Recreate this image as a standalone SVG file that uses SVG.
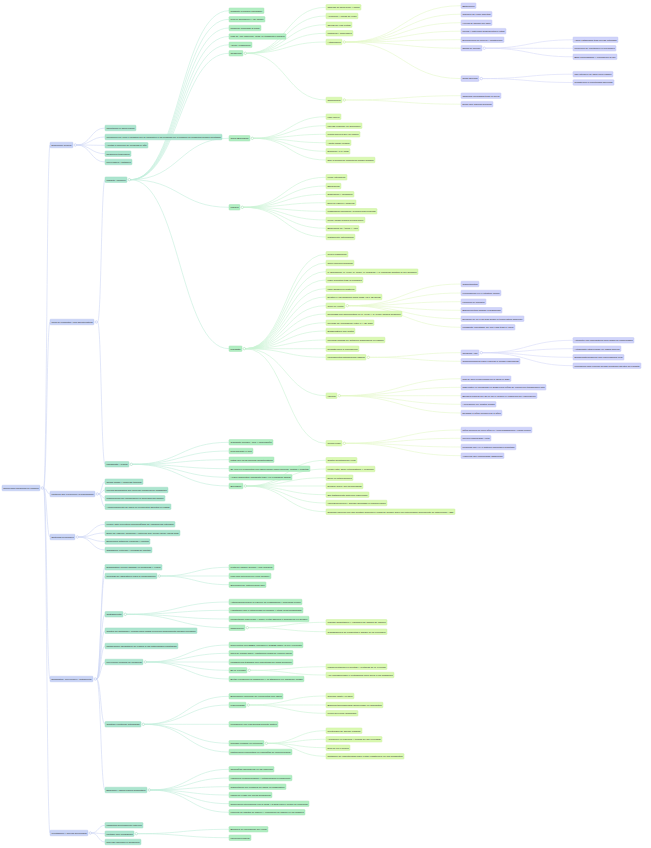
<svg xmlns="http://www.w3.org/2000/svg" width="651" height="848" viewBox="0 0 651 848">
<style>
text{font-family:"Liberation Sans",Arial,sans-serif;font-size:2.3px;fill:#2f2f2f}
rect{rx:0.8px;stroke-width:0.4}
.b1{fill:#c9d4f6;stroke:#b4c0ee}
.b3{fill:#ace5cf;stroke:#94d8bd}
.b4{fill:#b1eec2;stroke:#9ae1ae}
.b5{fill:#daf9b2;stroke:#c6ee94}
.b6{fill:#d0d4fa;stroke:#bac0f3}
circle{fill:#fff;stroke-width:0.4}
.k1{stroke:#9aa8e6}.k3{stroke:#7ccaa9}.k4{stroke:#7fd596}.k5{stroke:#a9de6c}.k6{stroke:#9ea6ee}
#links path{fill:none;stroke-width:0.6}
.l1{stroke:#cfd7f5}.l3{stroke:#c3eedb}.l4{stroke:#cbf3d5}.l5{stroke:#e4f8c9}.l6{stroke:#d6daf8}
</style>
<rect x="0" y="0" width="651" height="848" fill="#ffffff" style="rx:0"/>
<g id="links">
<path class="l1" d="M43.6 488C46.8 488 46.8 145 50 145M43.6 488C46.8 488 46.8 322 50 322M43.6 488C46.8 488 46.8 494 50 494M43.6 488C46.8 488 46.8 537 50 537M43.6 488C46.8 488 46.8 679 50 679M43.6 488C46.8 488 46.8 833 50 833"/>
<path class="l1" d="M76.6 145C90.8 145 90.8 128 105 128M76.6 145C90.8 145 90.8 137 105 137M76.6 145C90.8 145 90.8 145.3 105 145.3M76.6 145C90.8 145 90.8 153.7 105 153.7M76.6 145C90.8 145 90.8 162 105 162"/>
<path class="l1" d="M97.6 322C101.3 322 101.3 179.7 105 179.7M97.6 322C101.3 322 101.3 464.3 105 464.3"/>
<path class="l1" d="M98.6 494C101.8 494 101.8 481.7 105 481.7M98.6 494C101.8 494 101.8 490 105 490M98.6 494C101.8 494 101.8 498.3 105 498.3M98.6 494C101.8 494 101.8 506.7 105 506.7"/>
<path class="l1" d="M78.6 537C91.8 537 91.8 524.3 105 524.3M78.6 537C91.8 537 91.8 533 105 533M78.6 537C91.8 537 91.8 541.5 105 541.5M78.6 537C91.8 537 91.8 550 105 550"/>
<path class="l1" d="M96.6 679C100.8 679 100.8 567.3 105 567.3M96.6 679C100.8 679 100.8 576 105 576M96.6 679C100.8 679 100.8 614.3 105 614.3M96.6 679C100.8 679 100.8 630.7 105 630.7M96.6 679C100.8 679 100.8 646 105 646M96.6 679C100.8 679 100.8 662 105 662M96.6 679C100.8 679 100.8 724.3 105 724.3M96.6 679C100.8 679 100.8 790 105 790"/>
<path class="l1" d="M91.6 833C98.3 833 98.3 825.3 105 825.3M91.6 833C98.3 833 98.3 833.7 105 833.7M91.6 833C98.3 833 98.3 842 105 842"/>
<path class="l3" d="M130.6 179.7C179.8 179.7 179.8 10.7 229 10.7M130.6 179.7C179.8 179.7 179.8 19.3 229 19.3M130.6 179.7C179.8 179.7 179.8 28 229 28M130.6 179.7C179.8 179.7 179.8 36.5 229 36.5M130.6 179.7C179.8 179.7 179.8 44.8 229 44.8M130.6 179.7C179.8 179.7 179.8 53.3 229 53.3M130.6 179.7C179.8 179.7 179.8 138.3 229 138.3M130.6 179.7C179.8 179.7 179.8 207.3 229 207.3M130.6 179.7C179.8 179.7 179.8 348.7 229 348.7"/>
<path class="l3" d="M132.6 464.3C180.8 464.3 180.8 442.3 229 442.3M132.6 464.3C180.8 464.3 180.8 451 229 451M132.6 464.3C180.8 464.3 180.8 459.7 229 459.7M132.6 464.3C180.8 464.3 180.8 468.7 229 468.7M132.6 464.3C180.8 464.3 180.8 477.3 229 477.3M132.6 464.3C180.8 464.3 180.8 486 229 486"/>
<path class="l3" d="M160.6 576C194.8 576 194.8 567.3 229 567.3M160.6 576C194.8 576 194.8 576 229 576M160.6 576C194.8 576 194.8 584.7 229 584.7"/>
<path class="l3" d="M126.6 614.3C177.8 614.3 177.8 602 229 602M126.6 614.3C177.8 614.3 177.8 610.3 229 610.3M126.6 614.3C177.8 614.3 177.8 619 229 619M126.6 614.3C177.8 614.3 177.8 627.7 229 627.7"/>
<path class="l3" d="M146.6 662C187.8 662 187.8 645 229 645M146.6 662C187.8 662 187.8 653.3 229 653.3M146.6 662C187.8 662 187.8 662 229 662M146.6 662C187.8 662 187.8 670.3 229 670.3M146.6 662C187.8 662 187.8 679 229 679"/>
<path class="l3" d="M144.6 724.3C186.8 724.3 186.8 696.3 229 696.3M144.6 724.3C186.8 724.3 186.8 705 229 705M144.6 724.3C186.8 724.3 186.8 724.3 229 724.3M144.6 724.3C186.8 724.3 186.8 743.3 229 743.3M144.6 724.3C186.8 724.3 186.8 752 229 752"/>
<path class="l3" d="M150.6 790C189.8 790 189.8 769.3 229 769.3M150.6 790C189.8 790 189.8 778 229 778M150.6 790C189.8 790 189.8 786.7 229 786.7M150.6 790C189.8 790 189.8 795 229 795M150.6 790C189.8 790 189.8 803.7 229 803.7M150.6 790C189.8 790 189.8 812.3 229 812.3"/>
<path class="l3" d="M137.6 833.7C183.3 833.7 183.3 829.3 229 829.3M137.6 833.7C183.3 833.7 183.3 837.7 229 837.7"/>
<path class="l4" d="M246.6 53.3C286.3 53.3 286.3 7.3 326 7.3M246.6 53.3C286.3 53.3 286.3 16 326 16M246.6 53.3C286.3 53.3 286.3 24.7 326 24.7M246.6 53.3C286.3 53.3 286.3 33.3 326 33.3M246.6 53.3C286.3 53.3 286.3 42 326 42M246.6 53.3C286.3 53.3 286.3 100 326 100"/>
<path class="l4" d="M253.6 138.3C289.8 138.3 289.8 116.7 326 116.7M253.6 138.3C289.8 138.3 289.8 125.7 326 125.7M253.6 138.3C289.8 138.3 289.8 134.3 326 134.3M253.6 138.3C289.8 138.3 289.8 142.7 326 142.7M253.6 138.3C289.8 138.3 289.8 151.3 326 151.3M253.6 138.3C289.8 138.3 289.8 160 326 160"/>
<path class="l4" d="M243.6 207.3C284.8 207.3 284.8 177.3 326 177.3M243.6 207.3C284.8 207.3 284.8 186 326 186M243.6 207.3C284.8 207.3 284.8 194.3 326 194.3M243.6 207.3C284.8 207.3 284.8 202.7 326 202.7M243.6 207.3C284.8 207.3 284.8 211.3 326 211.3M243.6 207.3C284.8 207.3 284.8 220 326 220M243.6 207.3C284.8 207.3 284.8 228.3 326 228.3M243.6 207.3C284.8 207.3 284.8 237 326 237"/>
<path class="l4" d="M245.6 348.7C285.8 348.7 285.8 254.3 326 254.3M245.6 348.7C285.8 348.7 285.8 263 326 263M245.6 348.7C285.8 348.7 285.8 271.7 326 271.7M245.6 348.7C285.8 348.7 285.8 280 326 280M245.6 348.7C285.8 348.7 285.8 288.7 326 288.7M245.6 348.7C285.8 348.7 285.8 297 326 297M245.6 348.7C285.8 348.7 285.8 305.7 326 305.7M245.6 348.7C285.8 348.7 285.8 314 326 314M245.6 348.7C285.8 348.7 285.8 322.7 326 322.7M245.6 348.7C285.8 348.7 285.8 331 326 331M245.6 348.7C285.8 348.7 285.8 340 326 340M245.6 348.7C285.8 348.7 285.8 348.7 326 348.7M245.6 348.7C285.8 348.7 285.8 357.3 326 357.3M245.6 348.7C285.8 348.7 285.8 395.7 326 395.7M245.6 348.7C285.8 348.7 285.8 443.3 326 443.3"/>
<path class="l4" d="M246.6 486C286.3 486 286.3 460.3 326 460.3M246.6 486C286.3 486 286.3 469 326 469M246.6 486C286.3 486 286.3 477.7 326 477.7M246.6 486C286.3 486 286.3 486 326 486M246.6 486C286.3 486 286.3 494.7 326 494.7M246.6 486C286.3 486 286.3 503 326 503M246.6 486C286.3 486 286.3 511.7 326 511.7"/>
<path class="l4" d="M248.6 627.7C287.3 627.7 287.3 622.3 326 622.3M248.6 627.7C287.3 627.7 287.3 631.7 326 631.7"/>
<path class="l4" d="M250.6 670.3C288.3 670.3 288.3 666.7 326 666.7M250.6 670.3C288.3 670.3 288.3 675 326 675"/>
<path class="l4" d="M249.6 705C287.8 705 287.8 696 326 696M249.6 705C287.8 705 287.8 705 326 705M249.6 705C287.8 705 287.8 713.3 326 713.3"/>
<path class="l4" d="M267.6 743.3C296.8 743.3 296.8 730.7 326 730.7M267.6 743.3C296.8 743.3 296.8 739.3 326 739.3M267.6 743.3C296.8 743.3 296.8 747.7 326 747.7M267.6 743.3C296.8 743.3 296.8 756.3 326 756.3"/>
<path class="l5" d="M345.6 42C403.3 42 403.3 5.7 461 5.7M345.6 42C403.3 42 403.3 14.2 461 14.2M345.6 42C403.3 42 403.3 22.7 461 22.7M345.6 42C403.3 42 403.3 31.2 461 31.2M345.6 42C403.3 42 403.3 39.7 461 39.7M345.6 42C403.3 42 403.3 48.2 461 48.2M345.6 42C403.3 42 403.3 78.6 461 78.6"/>
<path class="l5" d="M345.6 100C403.3 100 403.3 95.7 461 95.7M345.6 100C403.3 100 403.3 104.2 461 104.2"/>
<path class="l5" d="M348.6 305.7C404.8 305.7 404.8 284 461 284M348.6 305.7C404.8 305.7 404.8 293 461 293M348.6 305.7C404.8 305.7 404.8 301.7 461 301.7M348.6 305.7C404.8 305.7 404.8 310.3 461 310.3M348.6 305.7C404.8 305.7 404.8 318.7 461 318.7M348.6 305.7C404.8 305.7 404.8 327.3 461 327.3"/>
<path class="l5" d="M369.6 357.3C415.3 357.3 415.3 352.7 461 352.7M369.6 357.3C415.3 357.3 415.3 361.3 461 361.3"/>
<path class="l5" d="M340.6 395.7C400.8 395.7 400.8 378.7 461 378.7M340.6 395.7C400.8 395.7 400.8 387.3 461 387.3M340.6 395.7C400.8 395.7 400.8 395.7 461 395.7M340.6 395.7C400.8 395.7 400.8 404.3 461 404.3M340.6 395.7C400.8 395.7 400.8 413 461 413"/>
<path class="l5" d="M345.6 443.3C403.3 443.3 403.3 430 461 430M345.6 443.3C403.3 443.3 403.3 438.3 461 438.3M345.6 443.3C403.3 443.3 403.3 447 461 447M345.6 443.3C403.3 443.3 403.3 455.7 461 455.7"/>
<path class="l6" d="M485.6 48.2C529.3 48.2 529.3 39.8 573 39.8M485.6 48.2C529.3 48.2 529.3 48.3 573 48.3M485.6 48.2C529.3 48.2 529.3 56.8 573 56.8"/>
<path class="l6" d="M482.6 78.6C527.8 78.6 527.8 74.2 573 74.2M482.6 78.6C527.8 78.6 527.8 82.5 573 82.5"/>
<path class="l6" d="M482.6 352.7C527.8 352.7 527.8 340.3 573 340.3M482.6 352.7C527.8 352.7 527.8 348.7 573 348.7M482.6 352.7C527.8 352.7 527.8 357.3 573 357.3M482.6 352.7C527.8 352.7 527.8 365.7 573 365.7"/>
</g>
<g id="n-root"><rect class="b1" x="2" y="485.2" width="38" height="5.6"/><text x="3.4" y="488.8" textLength="35.2" lengthAdjust="spacingAndGlyphs">Enfermedades Transmitidas por Mosquitos</text><circle class="k1" cx="42.3" cy="488" r="1.2"/></g>
<g id="n2-145"><rect class="b1" x="50" y="142.2" width="23" height="5.6"/><text x="51.4" y="145.8" textLength="20.2" lengthAdjust="spacingAndGlyphs">Descripción General</text><circle class="k1" cx="75.3" cy="145" r="1.2"/></g>
<g id="n2-322"><rect class="b1" x="50" y="319.2" width="44" height="5.6"/><text x="51.4" y="322.8" textLength="41.2" lengthAdjust="spacingAndGlyphs">Tipos de Mosquitos y sus Características</text><circle class="k1" cx="96.3" cy="322" r="1.2"/></g>
<g id="n2-494"><rect class="b1" x="50" y="491.2" width="45" height="5.6"/><text x="51.4" y="494.8" textLength="42.2" lengthAdjust="spacingAndGlyphs">Factores que Favorecen la Transmisión</text><circle class="k1" cx="97.3" cy="494" r="1.2"/></g>
<g id="n2-537"><rect class="b1" x="50" y="534.2" width="25" height="5.6"/><text x="51.4" y="537.8" textLength="22.2" lengthAdjust="spacingAndGlyphs">Síntomas Principales</text><circle class="k1" cx="77.3" cy="537" r="1.2"/></g>
<g id="n2-679"><rect class="b1" x="50" y="676.2" width="43" height="5.6"/><text x="51.4" y="679.8" textLength="40.2" lengthAdjust="spacingAndGlyphs">Diagnóstico, Prevención y Tratamiento</text><circle class="k1" cx="95.3" cy="679" r="1.2"/></g>
<g id="n2-833"><rect class="b1" x="50" y="830.2" width="38" height="5.6"/><text x="51.4" y="833.8" textLength="35.2" lengthAdjust="spacingAndGlyphs">Investigación y Nuevas Tecnologías</text><circle class="k1" cx="90.3" cy="833" r="1.2"/></g>
<g id="n3-128"><rect class="b3" x="105" y="125.2" width="31" height="5.6"/><text x="106.4" y="128.8" textLength="28.2" lengthAdjust="spacingAndGlyphs">Importancia en salud pública</text></g>
<g id="n3-137"><rect class="b3" x="105" y="134.2" width="117" height="5.6"/><text x="106.4" y="137.8" textLength="114.2" lengthAdjust="spacingAndGlyphs">Infecciones por virus o parásitos que se transmiten a las personas por la picadura de mosquitos hembra infectados</text></g>
<g id="n3-145"><rect class="b3" x="105" y="142.5" width="43" height="5.6"/><text x="106.4" y="146.1" textLength="40.2" lengthAdjust="spacingAndGlyphs">Afectan a millones de personas al año</text></g>
<g id="n3-154"><rect class="b3" x="105" y="150.9" width="26" height="5.6"/><text x="106.4" y="154.5" textLength="23.2" lengthAdjust="spacingAndGlyphs">Regiones tropicales</text></g>
<g id="n3-162"><rect class="b3" x="105" y="159.2" width="27" height="5.6"/><text x="106.4" y="162.8" textLength="24.2" lengthAdjust="spacingAndGlyphs">Prevenibles y tratables</text></g>
<g id="n3-180"><rect class="b3" x="105" y="176.9" width="22" height="5.6"/><text x="106.4" y="180.5" textLength="19.2" lengthAdjust="spacingAndGlyphs">Mosquito Anopheles</text><circle class="k3" cx="129.3" cy="179.7" r="1.2"/></g>
<g id="n3-464"><rect class="b3" x="105" y="461.5" width="24" height="5.6"/><text x="106.4" y="465.1" textLength="21.2" lengthAdjust="spacingAndGlyphs">Mosquito Aedes</text><circle class="k3" cx="131.3" cy="464.3" r="1.2"/></g>
<g id="n3-482"><rect class="b3" x="105" y="478.9" width="38" height="5.6"/><text x="106.4" y="482.5" textLength="35.2" lengthAdjust="spacingAndGlyphs">Clima cálido y húmedo tropical</text></g>
<g id="n3-490"><rect class="b3" x="105" y="487.2" width="63" height="5.6"/><text x="106.4" y="490.8" textLength="60.2" lengthAdjust="spacingAndGlyphs">Lluvias abundantes que generan criaderos de mosquitos</text></g>
<g id="n3-498"><rect class="b3" x="105" y="495.5" width="60" height="5.6"/><text x="106.4" y="499.1" textLength="57.2" lengthAdjust="spacingAndGlyphs">Urbanización sin planificación ni saneamiento básico</text></g>
<g id="n3-507"><rect class="b3" x="105" y="503.9" width="66" height="5.6"/><text x="106.4" y="507.5" textLength="63.2" lengthAdjust="spacingAndGlyphs">Almacenamiento de agua en recipientes abiertos en casas</text></g>
<g id="n3-524"><rect class="b3" x="105" y="521.5" width="70" height="5.6"/><text x="106.4" y="525.1" textLength="67.2" lengthAdjust="spacingAndGlyphs">Fiebre alta repentina acompañada de escalofríos intensos</text></g>
<g id="n3-533"><rect class="b3" x="105" y="530.2" width="75" height="5.6"/><text x="106.4" y="533.8" textLength="72.2" lengthAdjust="spacingAndGlyphs">Dolor de cabeza, muscular y articular que puede durar varios días</text></g>
<g id="n3-541"><rect class="b3" x="105" y="538.7" width="45" height="5.6"/><text x="106.4" y="542.3" textLength="42.2" lengthAdjust="spacingAndGlyphs">Erupciones cutáneas, náuseas y vómitos</text></g>
<g id="n3-550"><rect class="b3" x="105" y="547.2" width="47" height="5.6"/><text x="106.4" y="550.8" textLength="44.2" lengthAdjust="spacingAndGlyphs">Cansancio extremo y pérdida de apetito</text></g>
<g id="n3-567"><rect class="b3" x="105" y="564.5" width="57" height="5.6"/><text x="106.4" y="568.1" textLength="54.2" lengthAdjust="spacingAndGlyphs">Diagnóstico clínico basado en síntomas y viajes</text></g>
<g id="n3-576"><rect class="b3" x="105" y="573.2" width="52" height="5.6"/><text x="106.4" y="576.8" textLength="49.2" lengthAdjust="spacingAndGlyphs">Pruebas de laboratorio para la confirmación</text><circle class="k3" cx="159.3" cy="576" r="1.2"/></g>
<g id="n3-614"><rect class="b3" x="105" y="611.5" width="18" height="5.6"/><text x="106.4" y="615.1" textLength="15.2" lengthAdjust="spacingAndGlyphs">Tratamiento</text><circle class="k3" cx="125.3" cy="614.3" r="1.2"/></g>
<g id="n3-631"><rect class="b3" x="105" y="627.9" width="92" height="5.6"/><text x="106.4" y="631.5" textLength="89.2" lengthAdjust="spacingAndGlyphs">Control de síntomas y reposo para casos leves con seguimiento médico periódico</text></g>
<g id="n3-646"><rect class="b3" x="105" y="643.2" width="73" height="5.6"/><text x="106.4" y="646.8" textLength="70.2" lengthAdjust="spacingAndGlyphs">Notificación obligatoria de casos a las autoridades sanitarias</text></g>
<g id="n3-662"><rect class="b3" x="105" y="659.2" width="38" height="5.6"/><text x="106.4" y="662.8" textLength="35.2" lengthAdjust="spacingAndGlyphs">Prevención personal de picaduras</text><circle class="k3" cx="145.3" cy="662" r="1.2"/></g>
<g id="n3-724"><rect class="b3" x="105" y="721.5" width="36" height="5.6"/><text x="106.4" y="725.1" textLength="33.2" lengthAdjust="spacingAndGlyphs">Control vectorial integrado</text><circle class="k3" cx="143.3" cy="724.3" r="1.2"/></g>
<g id="n3-790"><rect class="b3" x="105" y="787.2" width="42" height="5.6"/><text x="106.4" y="790.8" textLength="39.2" lengthAdjust="spacingAndGlyphs">Educación y Salud Pública Comunitaria</text><circle class="k3" cx="149.3" cy="790" r="1.2"/></g>
<g id="n3-825"><rect class="b3" x="105" y="822.5" width="38" height="5.6"/><text x="106.4" y="826.1" textLength="35.2" lengthAdjust="spacingAndGlyphs">Mosquitos genéticamente estériles</text></g>
<g id="n3-834"><rect class="b3" x="105" y="830.9" width="29" height="5.6"/><text x="106.4" y="834.5" textLength="26.2" lengthAdjust="spacingAndGlyphs">Método con Wolbachia</text><circle class="k3" cx="136.3" cy="833.7" r="1.2"/></g>
<g id="n3-842"><rect class="b3" x="105" y="839.2" width="36" height="5.6"/><text x="106.4" y="842.8" textLength="33.2" lengthAdjust="spacingAndGlyphs">Nuevas vacunas en desarrollo</text></g>
<g id="n4-11"><rect class="b4" x="229" y="7.9" width="35" height="5.6"/><text x="230.4" y="11.5" textLength="32.2" lengthAdjust="spacingAndGlyphs">Transmite la malaria (paludismo)</text></g>
<g id="n4-19"><rect class="b4" x="229" y="16.5" width="36" height="5.6"/><text x="230.4" y="20.1" textLength="33.2" lengthAdjust="spacingAndGlyphs">Pica al anochecer y de noche</text></g>
<g id="n4-28"><rect class="b4" x="229" y="25.2" width="32" height="5.6"/><text x="230.4" y="28.8" textLength="29.2" lengthAdjust="spacingAndGlyphs">Posición inclinada al picar</text></g>
<g id="n4-36"><rect class="b4" x="229" y="33.7" width="57" height="5.6"/><text x="230.4" y="37.3" textLength="54.2" lengthAdjust="spacingAndGlyphs">Más de 400 especies, unas 40 transmiten malaria</text></g>
<g id="n4-45"><rect class="b4" x="229" y="42" width="23" height="5.6"/><text x="230.4" y="45.6" textLength="20.2" lengthAdjust="spacingAndGlyphs">Agente: Plasmodium</text></g>
<g id="n4-53"><rect class="b4" x="229" y="50.5" width="14" height="5.6"/><text x="230.4" y="54.1" textLength="11.2" lengthAdjust="spacingAndGlyphs">Criaderos</text><circle class="k4" cx="245.3" cy="53.3" r="1.2"/></g>
<g id="n4-138"><rect class="b4" x="229" y="135.5" width="21" height="5.6"/><text x="230.4" y="139.1" textLength="18.2" lengthAdjust="spacingAndGlyphs">Ciclo Biológico</text><circle class="k4" cx="252.3" cy="138.3" r="1.2"/></g>
<g id="n4-207"><rect class="b4" x="229" y="204.5" width="11" height="5.6"/><text x="230.4" y="208.1" textLength="8.2" lengthAdjust="spacingAndGlyphs">Malaria</text><circle class="k4" cx="242.3" cy="207.3" r="1.2"/></g>
<g id="n4-349"><rect class="b4" x="229" y="345.9" width="13" height="5.6"/><text x="230.4" y="349.5" textLength="10.2" lengthAdjust="spacingAndGlyphs">Parásito</text><circle class="k4" cx="244.3" cy="348.7" r="1.2"/></g>
<g id="n4-442"><rect class="b4" x="229" y="439.5" width="44" height="5.6"/><text x="230.4" y="443.1" textLength="41.2" lengthAdjust="spacingAndGlyphs">Transmite dengue, zika y chikunguña</text></g>
<g id="n4-451"><rect class="b4" x="229" y="448.2" width="24" height="5.6"/><text x="230.4" y="451.8" textLength="21.2" lengthAdjust="spacingAndGlyphs">Pica durante el día</text></g>
<g id="n4-460"><rect class="b4" x="229" y="456.9" width="45" height="5.6"/><text x="230.4" y="460.5" textLength="42.2" lengthAdjust="spacingAndGlyphs">Patas con rayas blancas características</text></g>
<g id="n4-469"><rect class="b4" x="229" y="465.9" width="81" height="5.6"/><text x="230.4" y="469.5" textLength="78.2" lengthAdjust="spacingAndGlyphs">Se cría en recipientes con agua limpia como floreros, llantas y cubetas</text></g>
<g id="n4-477"><rect class="b4" x="229" y="474.5" width="63" height="5.6"/><text x="230.4" y="478.1" textLength="60.2" lengthAdjust="spacingAndGlyphs">Aedes albopictus (mosquito tigre) en expansión global</text></g>
<g id="n4-486"><rect class="b4" x="229" y="483.2" width="14" height="5.6"/><text x="230.4" y="486.8" textLength="11.2" lengthAdjust="spacingAndGlyphs">Dengue</text><circle class="k4" cx="245.3" cy="486" r="1.2"/></g>
<g id="n4-567"><rect class="b4" x="229" y="564.5" width="45" height="5.6"/><text x="230.4" y="568.1" textLength="42.2" lengthAdjust="spacingAndGlyphs">Frotis de sangre gruesa y fina (malaria)</text></g>
<g id="n4-576"><rect class="b4" x="229" y="573.2" width="42" height="5.6"/><text x="230.4" y="576.8" textLength="39.2" lengthAdjust="spacingAndGlyphs">PCR para detección del virus (dengue)</text></g>
<g id="n4-585"><rect class="b4" x="229" y="581.9" width="37" height="5.6"/><text x="230.4" y="585.5" textLength="34.2" lengthAdjust="spacingAndGlyphs">Serología de anticuerpos IgM</text></g>
<g id="n4-602"><rect class="b4" x="229" y="599.2" width="73" height="5.6"/><text x="230.4" y="602.8" textLength="70.2" lengthAdjust="spacingAndGlyphs">Antipalúdicos según la especie de Plasmodium y gravedad clínica</text></g>
<g id="n4-610"><rect class="b4" x="229" y="607.5" width="74" height="5.6"/><text x="230.4" y="611.1" textLength="71.2" lengthAdjust="spacingAndGlyphs">Hidratación oral o intravenosa en dengue y otros virus transmitidos</text></g>
<g id="n4-619"><rect class="b4" x="229" y="616.2" width="80" height="5.6"/><text x="230.4" y="619.8" textLength="77.2" lengthAdjust="spacingAndGlyphs">Paracetamol para fiebre y dolor; evitar aspirina e ibuprofeno en dengue</text></g>
<g id="n4-628"><rect class="b4" x="229" y="624.9" width="16" height="5.6"/><text x="230.4" y="628.5" textLength="13.2" lengthAdjust="spacingAndGlyphs">Casos graves</text><circle class="k4" cx="247.3" cy="627.7" r="1.2"/></g>
<g id="n4-645"><rect class="b4" x="229" y="642.2" width="74" height="5.6"/><text x="230.4" y="645.8" textLength="71.2" lengthAdjust="spacingAndGlyphs">Repelentes con DEET, icaridina o IR3535 sobre la piel expuesta</text></g>
<g id="n4-653"><rect class="b4" x="229" y="650.5" width="64" height="5.6"/><text x="230.4" y="654.1" textLength="61.2" lengthAdjust="spacingAndGlyphs">Ropa de manga larga y pantalones largos de colores claros</text></g>
<g id="n4-662"><rect class="b4" x="229" y="659.2" width="64" height="5.6"/><text x="230.4" y="662.8" textLength="61.2" lengthAdjust="spacingAndGlyphs">Mosquiteros tratados con insecticida de larga duración</text></g>
<g id="n4-670"><rect class="b4" x="229" y="667.5" width="18" height="5.6"/><text x="230.4" y="671.1" textLength="15.2" lengthAdjust="spacingAndGlyphs">En la vivienda</text><circle class="k4" cx="249.3" cy="670.3" r="1.2"/></g>
<g id="n4-679"><rect class="b4" x="229" y="676.2" width="75" height="5.6"/><text x="230.4" y="679.8" textLength="72.2" lengthAdjust="spacingAndGlyphs">Evitar exposición al amanecer y al atardecer en zonas de riesgo</text></g>
<g id="n4-696"><rect class="b4" x="229" y="693.5" width="54" height="5.6"/><text x="230.4" y="697.1" textLength="51.2" lengthAdjust="spacingAndGlyphs">Eliminación semanal de recipientes con agua</text></g>
<g id="n4-705"><rect class="b4" x="229" y="702.2" width="17" height="5.6"/><text x="230.4" y="705.8" textLength="14.2" lengthAdjust="spacingAndGlyphs">Larvicidas</text><circle class="k4" cx="248.3" cy="705" r="1.2"/></g>
<g id="n4-724"><rect class="b4" x="229" y="721.5" width="49" height="5.6"/><text x="230.4" y="725.1" textLength="46.2" lengthAdjust="spacingAndGlyphs">Fumigación con insecticidas durante brotes</text></g>
<g id="n4-743"><rect class="b4" x="229" y="740.5" width="35" height="5.6"/><text x="230.4" y="744.1" textLength="32.2" lengthAdjust="spacingAndGlyphs">Rociado residual en interiores</text><circle class="k4" cx="266.3" cy="743.3" r="1.2"/></g>
<g id="n4-752"><rect class="b4" x="229" y="749.2" width="63" height="5.6"/><text x="230.4" y="752.8" textLength="60.2" lengthAdjust="spacingAndGlyphs">Participación comunitaria en campañas de limpieza barrial</text></g>
<g id="n4-769"><rect class="b4" x="229" y="766.5" width="45" height="5.6"/><text x="230.4" y="770.1" textLength="42.2" lengthAdjust="spacingAndGlyphs">Campañas informativas en las escuelas</text></g>
<g id="n4-778"><rect class="b4" x="229" y="775.2" width="63" height="5.6"/><text x="230.4" y="778.8" textLength="60.2" lengthAdjust="spacingAndGlyphs">Vigilancia epidemiológica y entomológica permanente</text></g>
<g id="n4-787"><rect class="b4" x="229" y="783.9" width="57" height="5.6"/><text x="230.4" y="787.5" textLength="54.2" lengthAdjust="spacingAndGlyphs">Capacitación del personal de salud en diagnóstico</text></g>
<g id="n4-795"><rect class="b4" x="229" y="792.2" width="43" height="5.6"/><text x="230.4" y="795.8" textLength="40.2" lengthAdjust="spacingAndGlyphs">Mapas de riesgo por zonas geográficas</text></g>
<g id="n4-804"><rect class="b4" x="229" y="800.9" width="80" height="5.6"/><text x="230.4" y="804.5" textLength="77.2" lengthAdjust="spacingAndGlyphs">Cooperación internacional con la OMS y la OPS para el control de epidemias</text></g>
<g id="n4-812"><rect class="b4" x="229" y="809.5" width="76" height="5.6"/><text x="230.4" y="813.1" textLength="73.2" lengthAdjust="spacingAndGlyphs">Fomento de hábitos de higiene y eliminación de basura en los hogares</text></g>
<g id="n4-829"><rect class="b4" x="229" y="826.5" width="39" height="5.6"/><text x="230.4" y="830.1" textLength="36.2" lengthAdjust="spacingAndGlyphs">Bloquea la replicación del virus</text></g>
<g id="n4-838"><rect class="b4" x="229" y="834.9" width="22" height="5.6"/><text x="230.4" y="838.5" textLength="19.2" lengthAdjust="spacingAndGlyphs">Liberaciones masivas</text></g>
<g id="n5-7"><rect class="b5" x="326" y="4.5" width="35" height="5.6"/><text x="327.4" y="8.1" textLength="32.2" lengthAdjust="spacingAndGlyphs">Charcas de agua dulce y limpia</text></g>
<g id="n5-16"><rect class="b5" x="326" y="13.2" width="32" height="5.6"/><text x="327.4" y="16.8" textLength="29.2" lengthAdjust="spacingAndGlyphs">Arrozales y zonas de riego</text></g>
<g id="n5-25"><rect class="b5" x="326" y="21.9" width="26" height="5.6"/><text x="327.4" y="25.5" textLength="23.2" lengthAdjust="spacingAndGlyphs">Orillas de ríos lentos</text></g>
<g id="n5-33"><rect class="b5" x="326" y="30.5" width="27" height="5.6"/><text x="327.4" y="34.1" textLength="24.2" lengthAdjust="spacingAndGlyphs">Pantanos y humedales</text></g>
<g id="n5-42"><rect class="b5" x="326" y="39.2" width="16" height="5.6"/><text x="327.4" y="42.8" textLength="13.2" lengthAdjust="spacingAndGlyphs">Artificiales</text><circle class="k5" cx="344.3" cy="42" r="1.2"/></g>
<g id="n5-100"><rect class="b5" x="326" y="97.2" width="16" height="5.6"/><text x="327.4" y="100.8" textLength="13.2" lengthAdjust="spacingAndGlyphs">Temporales</text><circle class="k5" cx="344.3" cy="100" r="1.2"/></g>
<g id="n5-117"><rect class="b5" x="326" y="113.9" width="15" height="5.6"/><text x="327.4" y="117.5" textLength="12.2" lengthAdjust="spacingAndGlyphs">Fase huevo</text></g>
<g id="n5-126"><rect class="b5" x="326" y="122.9" width="36" height="5.6"/><text x="327.4" y="126.5" textLength="33.2" lengthAdjust="spacingAndGlyphs">Larvas respiran en superficie</text></g>
<g id="n5-134"><rect class="b5" x="326" y="131.5" width="34" height="5.6"/><text x="327.4" y="135.1" textLength="31.2" lengthAdjust="spacingAndGlyphs">Pupas móviles que no comen</text></g>
<g id="n5-143"><rect class="b5" x="326" y="139.9" width="25" height="5.6"/><text x="327.4" y="143.5" textLength="22.2" lengthAdjust="spacingAndGlyphs">Adulto alado volador</text></g>
<g id="n5-151"><rect class="b5" x="326" y="148.5" width="24" height="5.6"/><text x="327.4" y="152.1" textLength="21.2" lengthAdjust="spacingAndGlyphs">Duración: 7-14 días</text></g>
<g id="n5-160"><rect class="b5" x="326" y="157.2" width="49" height="5.6"/><text x="327.4" y="160.8" textLength="46.2" lengthAdjust="spacingAndGlyphs">Solo la hembra se alimenta de sangre humana</text></g>
<g id="n5-177"><rect class="b5" x="326" y="174.5" width="21" height="5.6"/><text x="327.4" y="178.1" textLength="18.2" lengthAdjust="spacingAndGlyphs">Fiebre intermitente</text></g>
<g id="n5-186"><rect class="b5" x="326" y="183.2" width="15" height="5.6"/><text x="327.4" y="186.8" textLength="12.2" lengthAdjust="spacingAndGlyphs">Escalofríos</text></g>
<g id="n5-194"><rect class="b5" x="326" y="191.5" width="28" height="5.6"/><text x="327.4" y="195.1" textLength="25.2" lengthAdjust="spacingAndGlyphs">Sudoración y cansancio</text></g>
<g id="n5-203"><rect class="b5" x="326" y="199.9" width="30" height="5.6"/><text x="327.4" y="203.5" textLength="27.2" lengthAdjust="spacingAndGlyphs">Dolor de cabeza y muscular</text></g>
<g id="n5-211"><rect class="b5" x="326" y="208.5" width="51" height="5.6"/><text x="327.4" y="212.1" textLength="48.2" lengthAdjust="spacingAndGlyphs">Plasmodium falciparum: la forma más peligrosa</text></g>
<g id="n5-220"><rect class="b5" x="326" y="217.2" width="39" height="5.6"/><text x="327.4" y="220.8" textLength="36.2" lengthAdjust="spacingAndGlyphs">Puede causar malaria cerebral grave</text></g>
<g id="n5-228"><rect class="b5" x="326" y="225.5" width="33" height="5.6"/><text x="327.4" y="229.1" textLength="30.2" lengthAdjust="spacingAndGlyphs">Endémica en África y Asia</text></g>
<g id="n5-237"><rect class="b5" x="326" y="234.2" width="29" height="5.6"/><text x="327.4" y="237.8" textLength="26.2" lengthAdjust="spacingAndGlyphs">Tratamiento: artemisinina</text></g>
<g id="n5-254"><rect class="b5" x="326" y="251.5" width="22" height="5.6"/><text x="327.4" y="255.1" textLength="19.2" lengthAdjust="spacingAndGlyphs">Género Plasmodium</text></g>
<g id="n5-263"><rect class="b5" x="326" y="260.2" width="28" height="5.6"/><text x="327.4" y="263.8" textLength="25.2" lengthAdjust="spacingAndGlyphs">Cinco especies humanas</text></g>
<g id="n5-272"><rect class="b5" x="326" y="268.9" width="92" height="5.6"/><text x="327.4" y="272.5" textLength="89.2" lengthAdjust="spacingAndGlyphs">P. falciparum, P. vivax, P. ovale, P. malariae y P. knowlesi afectan al ser humano</text></g>
<g id="n5-280"><rect class="b5" x="326" y="277.2" width="37" height="5.6"/><text x="327.4" y="280.8" textLength="34.2" lengthAdjust="spacingAndGlyphs">Fase hepática tras la picadura</text></g>
<g id="n5-289"><rect class="b5" x="326" y="285.9" width="30" height="5.6"/><text x="327.4" y="289.5" textLength="27.2" lengthAdjust="spacingAndGlyphs">Fase sanguínea posterior</text></g>
<g id="n5-297"><rect class="b5" x="326" y="294.2" width="56" height="5.6"/><text x="327.4" y="297.8" textLength="53.2" lengthAdjust="spacingAndGlyphs">Destruye los glóbulos rojos cada 48 o 72 horas</text></g>
<g id="n5-306"><rect class="b5" x="326" y="302.9" width="19" height="5.6"/><text x="327.4" y="306.5" textLength="16.2" lengthAdjust="spacingAndGlyphs">Ciclo en vector</text><circle class="k5" cx="347.3" cy="305.7" r="1.2"/></g>
<g id="n5-314"><rect class="b5" x="326" y="311.2" width="76" height="5.6"/><text x="327.4" y="314.8" textLength="73.2" lengthAdjust="spacingAndGlyphs">Recaídas por hipnozoítos en P. vivax y P. ovale meses después</text></g>
<g id="n5-323"><rect class="b5" x="326" y="319.9" width="48" height="5.6"/><text x="327.4" y="323.5" textLength="45.2" lengthAdjust="spacingAndGlyphs">Periodo de incubación entre 7 y 30 días</text></g>
<g id="n5-331"><rect class="b5" x="326" y="328.2" width="29" height="5.6"/><text x="327.4" y="331.8" textLength="26.2" lengthAdjust="spacingAndGlyphs">Diagnóstico por frotis</text></g>
<g id="n5-340"><rect class="b5" x="326" y="337.2" width="59" height="5.6"/><text x="327.4" y="340.8" textLength="56.2" lengthAdjust="spacingAndGlyphs">Pruebas rápidas de antígeno disponibles en campo</text></g>
<g id="n5-349"><rect class="b5" x="326" y="345.9" width="33" height="5.6"/><text x="327.4" y="349.5" textLength="30.2" lengthAdjust="spacingAndGlyphs">Resistencia a cloroquina</text></g>
<g id="n5-357"><rect class="b5" x="326" y="354.5" width="40" height="5.6"/><text x="327.4" y="358.1" textLength="37.2" lengthAdjust="spacingAndGlyphs">Medicamentos antipalúdicos usados</text><circle class="k5" cx="368.3" cy="357.3" r="1.2"/></g>
<g id="n5-396"><rect class="b5" x="326" y="392.9" width="11" height="5.6"/><text x="327.4" y="396.5" textLength="8.2" lengthAdjust="spacingAndGlyphs">Vacunas</text><circle class="k5" cx="339.3" cy="395.7" r="1.2"/></g>
<g id="n5-443"><rect class="b5" x="326" y="440.5" width="16" height="5.6"/><text x="327.4" y="444.1" textLength="13.2" lengthAdjust="spacingAndGlyphs">Grupos riesgo</text><circle class="k5" cx="344.3" cy="443.3" r="1.2"/></g>
<g id="n5-460"><rect class="b5" x="326" y="457.5" width="31" height="5.6"/><text x="327.4" y="461.1" textLength="28.2" lengthAdjust="spacingAndGlyphs">Cuatro serotipos del virus</text></g>
<g id="n5-469"><rect class="b5" x="326" y="466.2" width="49" height="5.6"/><text x="327.4" y="469.8" textLength="46.2" lengthAdjust="spacingAndGlyphs">Fiebre alta, dolor retroorbitario y erupción</text></g>
<g id="n5-478"><rect class="b5" x="326" y="474.9" width="27" height="5.6"/><text x="327.4" y="478.5" textLength="24.2" lengthAdjust="spacingAndGlyphs">Dolor en articulaciones</text></g>
<g id="n5-486"><rect class="b5" x="326" y="483.2" width="37" height="5.6"/><text x="327.4" y="486.8" textLength="34.2" lengthAdjust="spacingAndGlyphs">Dengue grave con hemorragias</text></g>
<g id="n5-495"><rect class="b5" x="326" y="491.9" width="43" height="5.6"/><text x="327.4" y="495.5" textLength="40.2" lengthAdjust="spacingAndGlyphs">Sin tratamiento antiviral específico</text></g>
<g id="n5-503"><rect class="b5" x="326" y="500.2" width="61" height="5.6"/><text x="327.4" y="503.8" textLength="58.2" lengthAdjust="spacingAndGlyphs">Vacunas Dengvaxia y Qdenga aprobadas en algunos países</text></g>
<g id="n5-512"><rect class="b5" x="326" y="508.9" width="129" height="5.6"/><text x="327.4" y="512.5" textLength="126.2" lengthAdjust="spacingAndGlyphs">Segunda infección con otro serotipo aumenta el riesgo de dengue grave por potenciación dependiente de anticuerpos (ADE)</text></g>
<g id="n5-622"><rect class="b5" x="326" y="619.5" width="61" height="5.6"/><text x="327.4" y="623.1" textLength="58.2" lengthAdjust="spacingAndGlyphs">Ingreso hospitalario y vigilancia de signos de alarma</text></g>
<g id="n5-632"><rect class="b5" x="326" y="628.9" width="61" height="5.6"/><text x="327.4" y="632.5" textLength="58.2" lengthAdjust="spacingAndGlyphs">Transfusiones de plaquetas o sangre si es necesario</text></g>
<g id="n5-667"><rect class="b5" x="326" y="663.9" width="61" height="5.6"/><text x="327.4" y="667.5" textLength="58.2" lengthAdjust="spacingAndGlyphs">Mallas metálicas en puertas y ventanas de la vivienda</text></g>
<g id="n5-675"><rect class="b5" x="326" y="672.2" width="68" height="5.6"/><text x="327.4" y="675.8" textLength="65.2" lengthAdjust="spacingAndGlyphs">Aire acondicionado o ventiladores para alejar a los mosquitos</text></g>
<g id="n5-696"><rect class="b5" x="326" y="693.2" width="28" height="5.6"/><text x="327.4" y="696.8" textLength="25.2" lengthAdjust="spacingAndGlyphs">Temefós (abate) en agua</text></g>
<g id="n5-705"><rect class="b5" x="326" y="702.2" width="57" height="5.6"/><text x="327.4" y="705.8" textLength="54.2" lengthAdjust="spacingAndGlyphs">Bacillus thuringiensis israelensis en depósitos</text></g>
<g id="n5-713"><rect class="b5" x="326" y="710.5" width="32" height="5.6"/><text x="327.4" y="714.1" textLength="29.2" lengthAdjust="spacingAndGlyphs">Peces larvívoros (Gambusia)</text></g>
<g id="n5-731"><rect class="b5" x="326" y="727.9" width="36" height="5.6"/><text x="327.4" y="731.5" textLength="33.2" lengthAdjust="spacingAndGlyphs">Piretroides de acción residual</text></g>
<g id="n5-739"><rect class="b5" x="326" y="736.5" width="56" height="5.6"/><text x="327.4" y="740.1" textLength="53.2" lengthAdjust="spacingAndGlyphs">Aplicación en paredes y techos de las viviendas</text></g>
<g id="n5-748"><rect class="b5" x="326" y="744.9" width="24" height="5.6"/><text x="327.4" y="748.5" textLength="21.2" lengthAdjust="spacingAndGlyphs">Dura de 3 a 6 meses</text></g>
<g id="n5-756"><rect class="b5" x="326" y="753.5" width="78" height="5.6"/><text x="327.4" y="757.1" textLength="75.2" lengthAdjust="spacingAndGlyphs">Rotación de insecticidas para evitar resistencia en los mosquitos</text></g>
<g id="n6-6"><rect class="b6" x="461" y="2.9" width="15" height="5.6"/><text x="462.4" y="6.5" textLength="12.2" lengthAdjust="spacingAndGlyphs">Estanques</text></g>
<g id="n6-14"><rect class="b6" x="461" y="11.4" width="31" height="5.6"/><text x="462.4" y="15" textLength="28.2" lengthAdjust="spacingAndGlyphs">Canales de riego abiertos</text></g>
<g id="n6-23"><rect class="b6" x="461" y="19.9" width="31" height="5.6"/><text x="462.4" y="23.5" textLength="28.2" lengthAdjust="spacingAndGlyphs">Huellas de ganado con agua</text></g>
<g id="n6-31"><rect class="b6" x="461" y="28.4" width="45" height="5.6"/><text x="462.4" y="32" textLength="42.2" lengthAdjust="spacingAndGlyphs">Pozos y cisternas descubiertos o rotos</text></g>
<g id="n6-40"><rect class="b6" x="461" y="36.9" width="43" height="5.6"/><text x="462.4" y="40.5" textLength="40.2" lengthAdjust="spacingAndGlyphs">Excavaciones de minería y construcción</text></g>
<g id="n6-48"><rect class="b6" x="461" y="45.4" width="21" height="5.6"/><text x="462.4" y="49" textLength="18.2" lengthAdjust="spacingAndGlyphs">Zanjas de drenaje</text><circle class="k6" cx="484.3" cy="48.2" r="1.2"/></g>
<g id="n6-79"><rect class="b6" x="461" y="75.8" width="18" height="5.6"/><text x="462.4" y="79.4" textLength="15.2" lengthAdjust="spacingAndGlyphs">Zonas agrícolas</text><circle class="k6" cx="481.3" cy="78.6" r="1.2"/></g>
<g id="n6-96"><rect class="b6" x="461" y="92.9" width="40" height="5.6"/><text x="462.4" y="96.5" textLength="37.2" lengthAdjust="spacingAndGlyphs">Charcos formados tras la lluvia</text></g>
<g id="n6-104"><rect class="b6" x="461" y="101.4" width="32" height="5.6"/><text x="462.4" y="105" textLength="29.2" lengthAdjust="spacingAndGlyphs">Duran solo algunas semanas</text></g>
<g id="n6-284"><rect class="b6" x="461" y="281.2" width="18" height="5.6"/><text x="462.4" y="284.8" textLength="15.2" lengthAdjust="spacingAndGlyphs">Gametocitos</text></g>
<g id="n6-293"><rect class="b6" x="461" y="290.2" width="40" height="5.6"/><text x="462.4" y="293.8" textLength="37.2" lengthAdjust="spacingAndGlyphs">Fecundación en el intestino medio</text></g>
<g id="n6-302"><rect class="b6" x="461" y="298.9" width="25" height="5.6"/><text x="462.4" y="302.5" textLength="22.2" lengthAdjust="spacingAndGlyphs">Formación de ooquistes</text></g>
<g id="n6-310"><rect class="b6" x="461" y="307.5" width="41" height="5.6"/><text x="462.4" y="311.1" textLength="38.2" lengthAdjust="spacingAndGlyphs">Esporozoítos migran a glándulas</text></g>
<g id="n6-319"><rect class="b6" x="461" y="315.9" width="63" height="5.6"/><text x="462.4" y="319.5" textLength="60.2" lengthAdjust="spacingAndGlyphs">Duración de 10 a 18 días según la temperatura ambiente</text></g>
<g id="n6-327"><rect class="b6" x="461" y="324.5" width="54" height="5.6"/><text x="462.4" y="328.1" textLength="51.2" lengthAdjust="spacingAndGlyphs">Mosquito infectado de por vida tras el ciclo</text></g>
<g id="n6-353"><rect class="b6" x="461" y="349.9" width="18" height="5.6"/><text x="462.4" y="353.5" textLength="15.2" lengthAdjust="spacingAndGlyphs">Terapias ACT</text><circle class="k6" cx="481.3" cy="352.7" r="1.2"/></g>
<g id="n6-361"><rect class="b6" x="461" y="358.5" width="59" height="5.6"/><text x="462.4" y="362.1" textLength="56.2" lengthAdjust="spacingAndGlyphs">Quimioprofilaxis para viajeros a zonas endémicas</text></g>
<g id="n6-379"><rect class="b6" x="461" y="375.9" width="50" height="5.6"/><text x="462.4" y="379.5" textLength="47.2" lengthAdjust="spacingAndGlyphs">RTS,S/AS01 recomendada por la OMS en 2021</text></g>
<g id="n6-387"><rect class="b6" x="461" y="384.5" width="85" height="5.6"/><text x="462.4" y="388.1" textLength="82.2" lengthAdjust="spacingAndGlyphs">R21/Matrix-M aprobada en 2023 para niños de zonas con transmisión alta</text></g>
<g id="n6-396"><rect class="b6" x="461" y="392.9" width="76" height="5.6"/><text x="462.4" y="396.5" textLength="73.2" lengthAdjust="spacingAndGlyphs">Eficacia parcial del 30 al 75 % según el esquema de vacunación</text></g>
<g id="n6-404"><rect class="b6" x="461" y="401.5" width="35" height="5.6"/><text x="462.4" y="405.1" textLength="32.2" lengthAdjust="spacingAndGlyphs">Aplicación en cuatro dosis</text></g>
<g id="n6-413"><rect class="b6" x="461" y="410.2" width="41" height="5.6"/><text x="462.4" y="413.8" textLength="38.2" lengthAdjust="spacingAndGlyphs">Dirigidas a niños menores de 5 años</text></g>
<g id="n6-430"><rect class="b6" x="461" y="427.2" width="71" height="5.6"/><text x="462.4" y="430.8" textLength="68.2" lengthAdjust="spacingAndGlyphs">Niños menores de cinco años en África subsahariana y zonas rurales</text></g>
<g id="n6-438"><rect class="b6" x="461" y="435.5" width="30" height="5.6"/><text x="462.4" y="439.1" textLength="27.2" lengthAdjust="spacingAndGlyphs">Mujeres embarazadas y fetos</text></g>
<g id="n6-447"><rect class="b6" x="461" y="444.2" width="55" height="5.6"/><text x="462.4" y="447.8" textLength="52.2" lengthAdjust="spacingAndGlyphs">Personas con VIH o sistema inmunitario debilitado</text></g>
<g id="n6-456"><rect class="b6" x="461" y="452.9" width="43" height="5.6"/><text x="462.4" y="456.5" textLength="40.2" lengthAdjust="spacingAndGlyphs">Viajeros sin inmunidad adquirida</text></g>
<g id="n7-40"><rect class="b6" x="573" y="37" width="45" height="5.6"/><text x="574.4" y="40.6" textLength="42.2" lengthAdjust="spacingAndGlyphs">Agua estancada tras lluvias intensas</text></g>
<g id="n7-48"><rect class="b6" x="573" y="45.5" width="43" height="5.6"/><text x="574.4" y="49.1" textLength="40.2" lengthAdjust="spacingAndGlyphs">Presencia de vegetación en los bordes</text></g>
<g id="n7-57"><rect class="b6" x="573" y="54" width="44" height="5.6"/><text x="574.4" y="57.6" textLength="41.2" lengthAdjust="spacingAndGlyphs">Baja profundidad y exposición al sol</text></g>
<g id="n7-74"><rect class="b6" x="573" y="71.4" width="40" height="5.6"/><text x="574.4" y="75" textLength="37.2" lengthAdjust="spacingAndGlyphs">Uso intensivo de agua para regadío</text></g>
<g id="n7-83"><rect class="b6" x="573" y="79.7" width="41" height="5.6"/><text x="574.4" y="83.3" textLength="38.2" lengthAdjust="spacingAndGlyphs">Resistencia a insecticidas agrícolas</text></g>
<g id="n7-340"><rect class="b6" x="573" y="337.5" width="61" height="5.6"/><text x="574.4" y="341.1" textLength="58.2" lengthAdjust="spacingAndGlyphs">Artemeter con lumefantrina para casos no complicados</text></g>
<g id="n7-349"><rect class="b6" x="573" y="345.9" width="48" height="5.6"/><text x="574.4" y="349.5" textLength="45.2" lengthAdjust="spacingAndGlyphs">Artesunato intravenoso en casos graves</text></g>
<g id="n7-357"><rect class="b6" x="573" y="354.5" width="51" height="5.6"/><text x="574.4" y="358.1" textLength="48.2" lengthAdjust="spacingAndGlyphs">Dihidroartemisinina con piperaquina oral</text></g>
<g id="n7-366"><rect class="b6" x="573" y="362.9" width="68" height="5.6"/><text x="574.4" y="366.5" textLength="65.2" lengthAdjust="spacingAndGlyphs">Primaquina para eliminar formas hepáticas latentes del parásito</text></g>
</svg>
